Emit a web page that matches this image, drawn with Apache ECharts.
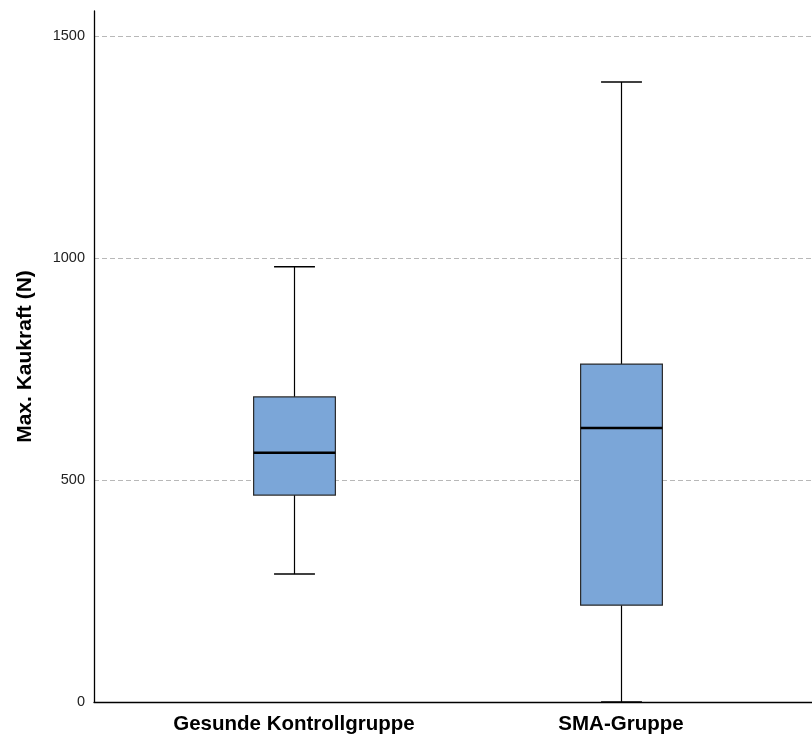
<!DOCTYPE html>
<html><head><meta charset="utf-8">
<script src="https://cdn.jsdelivr.net/npm/echarts@6/dist/echarts.min.js"></script>
<style>html,body{margin:0;padding:0;background:#fff}#c{width:812px;height:737px}</style>
</head><body><div id="c"></div>
<script>
const categories = ['Gesunde Kontrollgruppe', 'SMA-Gruppe'];
const whiskerLow = [288, 0];
const q1 = [466, 218];
const median = [561, 617];
const q3 = [687, 761];
const whiskerHigh = [980, 1396];
const yTicks = [0, 500, 1000, 1500];

const boxData = categories.map((c, i) => [i, whiskerLow[i], q1[i], median[i], q3[i], whiskerHigh[i]]);

const FONT = 'Liberation Sans, Arial, sans-serif';
const chart = echarts.init(document.getElementById('c'), null, {renderer: 'canvas'});
chart.setOption({
  animation: false,
  grid: [
    {left: 94, right: 0, top: 11, bottom: 35},
    {left: 130.5, right: 27.5, top: 11, bottom: 35}
  ],
  xAxis: [
    {type: 'value', gridIndex: 0, min: 0, max: 1, show: true,
     axisLine: {show: true, onZero: false, lineStyle: {color: '#000', width: 1.3}},
     axisTick: {show: false}, axisLabel: {show: false}, splitLine: {show: false}},
    {type: 'category', gridIndex: 1, data: categories,
     axisLine: {show: false}, axisTick: {show: false}, splitLine: {show: false},
     axisLabel: {margin: 12, color: '#000', fontSize: 20.5, fontWeight: 'bold', fontFamily: FONT}}
  ],
  yAxis: [
    {type: 'value', gridIndex: 0, min: 0, max: 1556, interval: 500,
     name: 'Max. Kaukraft (N)', nameLocation: 'middle', nameGap: 58, nameRotate: 90,
     nameTextStyle: {color: '#000', fontSize: 21, fontWeight: 'bold', fontFamily: FONT},
     axisLine: {show: true, lineStyle: {color: '#000', width: 1.3}},
     axisTick: {show: false},
     axisLabel: {margin: 9, color: '#222', fontSize: 14.5, fontFamily: FONT,
       formatter: v => yTicks.includes(v) ? String(v) : ''},
     splitLine: {show: true, lineStyle: {color: ['#b8b8b8', '#b8b8b8', '#b8b8b8', '#b8b8b8', 'rgba(0,0,0,0)'], type: [5, 3], width: 1}}},
    {type: 'value', gridIndex: 1, min: 0, max: 1556, interval: 500, show: false}
  ],
  series: [{
    type: 'custom',
    xAxisIndex: 1, yAxisIndex: 1,
    data: boxData,
    encode: {x: 0, y: [1, 2, 3, 4, 5]},
    renderItem: function (params, api) {
      const x = api.value(0);
      const pLow = api.coord([x, api.value(1)]);
      const pQ1 = api.coord([x, api.value(2)]);
      const pMed = api.coord([x, api.value(3)]);
      const pQ3 = api.coord([x, api.value(4)]);
      const pHigh = api.coord([x, api.value(5)]);
      const bw = api.size([1, 0])[0] * 0.25;
      const cx = Math.round(pLow[0]) + 0.5;
      const half = bw / 2, cap = bw / 4;
      const ls = {stroke: '#000', lineWidth: 1.2};
      return {
        type: 'group',
        children: [
          {type: 'line', shape: {x1: cx, y1: pLow[1], x2: cx, y2: pQ1[1]}, style: ls},
          {type: 'line', shape: {x1: cx, y1: pQ3[1], x2: cx, y2: pHigh[1]}, style: ls},
          {type: 'line', shape: {x1: cx - cap, y1: pLow[1], x2: cx + cap, y2: pLow[1]}, style: {stroke: '#000', lineWidth: 1.5}},
          {type: 'line', shape: {x1: cx - cap, y1: pHigh[1], x2: cx + cap, y2: pHigh[1]}, style: {stroke: '#000', lineWidth: 1.5}},
          {type: 'rect', shape: {x: cx - half, y: pQ3[1], width: bw, height: pQ1[1] - pQ3[1]},
           style: {fill: '#7ba6d8', stroke: '#2a2a2a', lineWidth: 1.2}},
          {type: 'line', shape: {x1: cx - half, y1: pMed[1], x2: cx + half, y2: pMed[1]}, style: {stroke: '#000', lineWidth: 2.5}}
        ]
      };
    }
  }]
});
</script></body></html>
